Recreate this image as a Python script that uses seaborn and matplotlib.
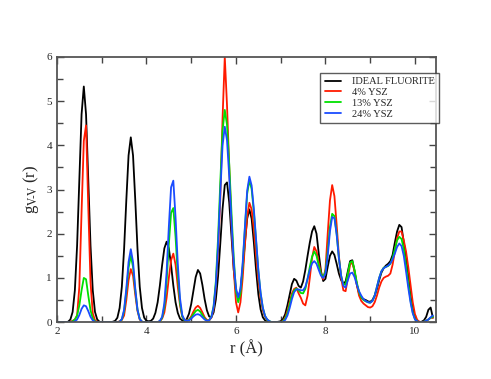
import numpy as np
import pandas as pd
import matplotlib
matplotlib.use("Agg")
import matplotlib.pyplot as plt
import seaborn as sns
from matplotlib.ticker import MultipleLocator

# sampling grid, 0.05 A steps from 2.00 to 10.40
r = np.round(np.arange(2.0, 10.401, 0.05), 2)

ideal = [
    0, 0, 0, 0, 0, 0.01, 0.06, 0.23, 0.72, 1.73,
    3.24, 4.70, 5.33, 4.70, 3.24, 1.73, 0.72, 0.23, 0.06, 0.01,
    0, 0, 0, 0, 0, 0.01, 0.03, 0.10, 0.32, 0.80,
    1.65, 2.76, 3.77, 4.18, 3.77, 2.76, 1.65, 0.80, 0.32, 0.10,
    0.03, 0.02, 0.03, 0.08, 0.21, 0.45, 0.83, 1.29, 1.67, 1.82,
    1.67, 1.29, 0.83, 0.45, 0.21, 0.08, 0.04, 0.03, 0.07, 0.19,
    0.41, 0.72, 1.02, 1.18, 1.10, 0.84, 0.52, 0.27, 0.13, 0.11,
    0.22, 0.51, 1.04, 1.78, 2.56, 3.10, 3.16, 2.70, 1.94, 1.19,
    0.71, 0.55, 0.72, 1.20, 1.80, 2.34, 2.55, 2.34, 1.80, 1.17,
    0.63, 0.29, 0.11, 0.04, 0.01, 0, 0, 0, 0, 0.01,
    0.02, 0.07, 0.18, 0.38, 0.62, 0.86, 0.98, 0.94, 0.82, 0.78,
    0.92, 1.18, 1.50, 1.80, 2.05, 2.17, 2.00, 1.55, 1.15, 0.93,
    0.98, 1.25, 1.50, 1.60, 1.52, 1.32, 1.10, 0.95, 0.87, 0.92,
    1.15, 1.38, 1.40, 1.15, 0.85, 0.65, 0.55, 0.52, 0.50, 0.47,
    0.46, 0.50, 0.60, 0.75, 0.95, 1.12, 1.22, 1.28, 1.32, 1.38,
    1.52, 1.80, 2.05, 2.20, 2.15, 1.80, 1.50, 1.05, 0.60, 0.30,
    0.10, 0.03, 0.0, 0.01, 0.04, 0.12, 0.28, 0.33, 0.10,
]

ysz4 = [
    0, 0, 0, 0, 0, 0, 0.01, 0.03, 0.06, 0.15,
    0.80, 2.50, 4.10, 4.45, 2.60, 0.90, 0.20, 0.04, 0.01, 0,
    0, 0, 0, 0, 0, 0, 0, 0, 0.02, 0.05,
    0.15, 0.50, 0.95, 1.20, 1.05, 0.62, 0.25, 0.06, 0.01, 0,
    0, 0, 0, 0, 0, 0, 0.02, 0.08, 0.22, 0.55,
    1.00, 1.40, 1.55, 1.30, 0.80, 0.38, 0.12, 0.05, 0.04, 0.06,
    0.13, 0.24, 0.33, 0.37, 0.32, 0.22, 0.11, 0.05, 0.04, 0.10,
    0.30, 0.80, 1.60, 2.80, 4.60, 6.00, 4.90, 3.50, 2.20, 1.20,
    0.45, 0.22, 0.45, 1.00, 1.75, 2.40, 2.70, 2.55, 2.10, 1.50,
    0.95, 0.55, 0.27, 0.12, 0.05, 0.01, 0, 0, 0, 0,
    0.0, 0.03, 0.10, 0.25, 0.45, 0.65, 0.75, 0.78, 0.65, 0.55,
    0.42, 0.38, 0.60, 1.00, 1.45, 1.70, 1.60, 1.35, 1.10, 0.97,
    1.20, 2.00, 2.75, 3.10, 2.85, 2.20, 1.50, 1.00, 0.72, 0.70,
    1.00, 1.30, 1.35, 1.15, 0.85, 0.60, 0.48, 0.42, 0.38, 0.34,
    0.33, 0.36, 0.45, 0.60, 0.78, 0.92, 1.00, 1.03, 1.05, 1.10,
    1.30, 1.60, 1.90, 2.05, 2.05, 1.85, 1.60, 1.25, 0.85, 0.45,
    0.18, 0.05, 0.01, 0.0, 0.01, 0.03, 0.06, 0.10, 0.10,
]

ysz13 = [
    0, 0, 0, 0, 0, 0, 0, 0.02, 0.06, 0.15,
    0.38, 0.72, 1.00, 0.97, 0.60, 0.27, 0.08, 0.02, 0, 0,
    0, 0, 0, 0, 0, 0, 0, 0, 0.01, 0.06,
    0.25, 0.69, 1.23, 1.50, 1.25, 0.72, 0.28, 0.07, 0.01, 0,
    0, 0, 0, 0, 0, 0, 0.02, 0.10, 0.35, 0.92,
    1.76, 2.47, 2.58, 1.93, 1.07, 0.44, 0.13, 0.04, 0.03, 0.05,
    0.10, 0.18, 0.25, 0.28, 0.24, 0.16, 0.08, 0.03, 0.04, 0.12,
    0.36, 0.92, 1.90, 3.17, 4.33, 4.80, 4.46, 3.57, 2.47, 1.47,
    0.70, 0.45, 0.65, 1.27, 2.12, 2.90, 3.21, 3.01, 2.49, 1.81,
    1.16, 0.65, 0.32, 0.14, 0.05, 0.02, 0, 0, 0, 0,
    0.0, 0.02, 0.08, 0.20, 0.40, 0.60, 0.72, 0.76, 0.72, 0.66,
    0.65, 0.75, 0.98, 1.25, 1.48, 1.60, 1.50, 1.28, 1.08, 1.02,
    1.15, 1.60, 2.15, 2.45, 2.40, 2.00, 1.45, 1.05, 0.85, 0.85,
    1.10, 1.35, 1.38, 1.18, 0.90, 0.68, 0.56, 0.50, 0.47, 0.45,
    0.44, 0.48, 0.60, 0.80, 1.00, 1.15, 1.23, 1.25, 1.27, 1.32,
    1.45, 1.65, 1.85, 1.93, 1.88, 1.65, 1.28, 0.88, 0.50, 0.22,
    0.07, 0.02, 0.0, 0.0, 0.01, 0.03, 0.06, 0.10, 0.12,
]

ysz24 = [
    0, 0, 0, 0, 0, 0, 0, 0, 0.02, 0.06,
    0.16, 0.30, 0.38, 0.36, 0.25, 0.12, 0.04, 0.01, 0, 0,
    0, 0, 0, 0, 0, 0, 0, 0, 0.01, 0.07,
    0.28, 0.76, 1.36, 1.65, 1.36, 0.76, 0.28, 0.07, 0.01, 0,
    0, 0, 0, 0, 0, 0, 0.03, 0.12, 0.43, 1.13,
    2.16, 3.05, 3.20, 2.37, 1.32, 0.54, 0.16, 0.05, 0.03, 0.04,
    0.08, 0.13, 0.17, 0.18, 0.16, 0.11, 0.06, 0.03, 0.04, 0.11,
    0.34, 0.84, 1.75, 2.92, 3.99, 4.42, 4.11, 3.29, 2.27, 1.35,
    0.77, 0.56, 0.75, 1.34, 2.17, 2.97, 3.29, 3.09, 2.55, 1.85,
    1.18, 0.67, 0.33, 0.14, 0.06, 0.02, 0, 0, 0, 0,
    0.0, 0.01, 0.05, 0.15, 0.32, 0.52, 0.68, 0.74, 0.74, 0.72,
    0.72, 0.80, 0.98, 1.18, 1.33, 1.38, 1.32, 1.18, 1.05, 1.00,
    1.10, 1.50, 2.05, 2.38, 2.35, 1.98, 1.45, 1.05, 0.82, 0.78,
    0.95, 1.10, 1.12, 1.02, 0.85, 0.70, 0.60, 0.52, 0.48, 0.45,
    0.44, 0.48, 0.60, 0.80, 1.00, 1.15, 1.22, 1.25, 1.28, 1.33,
    1.42, 1.55, 1.70, 1.78, 1.72, 1.50, 1.15, 0.78, 0.45, 0.20,
    0.06, 0.02, 0.0, 0.0, 0.01, 0.03, 0.06, 0.11, 0.15,
]

labels = ["IDEAL FLUORITE", "4% YSZ", "13% YSZ", "24% YSZ"]
colors = ["#000000", "#ff1a00", "#00e000", "#1a4cff"]

df = pd.concat([
    pd.DataFrame({"r": r, "g": vals, "system": name})
    for name, vals in zip(labels, [ideal, ysz4, ysz13, ysz24])
])

sns.set_style("ticks")
plt.rcParams["font.family"] = ["Liberation Serif", "DejaVu Serif"]
plt.rcParams["mathtext.fontset"] = "stix"

fig = plt.figure(figsize=(4.91, 3.79), dpi=100)
ax = fig.add_axes([0.116, 0.150, 0.772, 0.700])

sns.lineplot(data=df, x="r", y="g", hue="system", hue_order=labels,
             palette=colors, linewidth=1.3, estimator=None, sort=False, ax=ax)

ax.set_xlim(2, 10.47)
ax.set_ylim(0, 6)
ax.xaxis.set_major_locator(MultipleLocator(2))
ax.xaxis.set_minor_locator(MultipleLocator(1))
ax.yaxis.set_major_locator(MultipleLocator(1))
ax.yaxis.set_minor_locator(MultipleLocator(0.5))
ax.tick_params(which="both", direction="in", top=True, right=True,
               labelsize=8, color="#444444", width=1)
ax.tick_params(which="major", length=5)
ax.tick_params(which="minor", length=4)
for s in ax.spines.values():
    s.set_color("#555555")
    s.set_linewidth(1.3)

ax.set_xlabel("r (Å)", fontsize=12, labelpad=3)
ax.set_ylabel(r"g$_{\mathrm{V\!\text{-}\!V}}$ (r)", fontsize=12, labelpad=4)

leg = ax.legend(loc="upper left", bbox_to_anchor=(0.695, 0.94), fontsize=7.5,
                frameon=True, fancybox=False, handlelength=1.6,
                borderpad=0.4, labelspacing=0.15, handletextpad=1.0,
                borderaxespad=0)
leg.get_frame().set_edgecolor("#333333")
leg.get_frame().set_linewidth(1.0)
leg.set_title(None)

fig.savefig("out.png", dpi=100)
